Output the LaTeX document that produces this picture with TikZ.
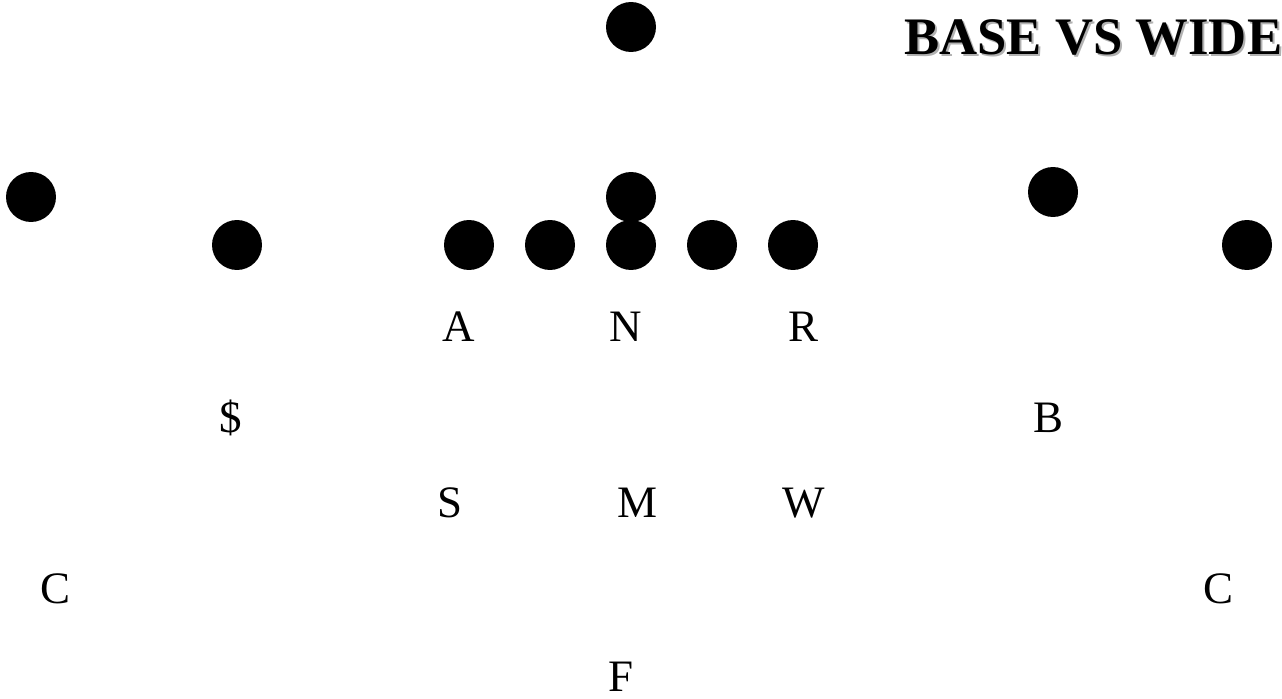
\documentclass[tikz,border=0pt]{standalone}
\usepackage{fontspec}
\setmainfont{Liberation Serif}
\tikzset{
  player/.style={circle,fill=black,inner sep=0pt,minimum size=1cm},
  defender/.style={inner sep=0pt,font=\fontsize{25.6}{30}\selectfont},
  titletext/.style={inner sep=0pt,anchor=base west,font=\fontsize{30}{36}\selectfont\bfseries}
}
\begin{document}
\begin{tikzpicture}[x=0.02cm,y=-0.02cm]
\useasboundingbox(0,0)rectangle(1282,699);
% offense
\node[player](deep)at(631,27){};
\node[player](xl)at(31,197){};
\node[player](sl)at(237,245){};
\node[player](lt)at(469,245){};
\node[player](lg)at(550,245){};
\node[player](ce)at(631,245){};
\node[player](rg)at(712,245){};
\node[player](rt)at(793,245){};
\node[player](qb)at(631,197){};
\node[player](te)at(1053,192){};
\node[player](xr)at(1247,245){};
% defense
\node[defender](a)at(459,327){A};
\node[defender](n)at(626,327){N};
\node[defender](r)at(803,327){R};
\node[defender](money)at(231,418){\$};
\node[defender](b)at(1048,418){B};
\node[defender](s)at(450,503){S};
\node[defender](m)at(637,503){M};
\node[defender](w)at(804,503){W};
\node[defender](cl)at(55,589){C};
\node[defender](cr)at(1218,589){C};
\node[defender](f)at(621,677){F};
% title
\node[titletext,text=black!30](shadow)at(906,57){BASE VS WIDE};
\node[titletext](title)at(904,55){BASE VS WIDE};
\end{tikzpicture}
\end{document}
